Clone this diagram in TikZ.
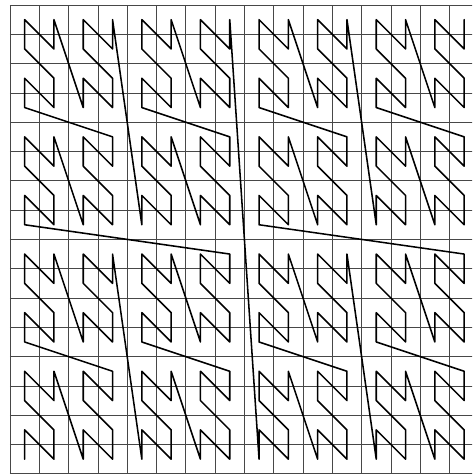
\documentclass[tikz,border=0pt]{standalone}
\begin{document}
\begin{tikzpicture}[x=1cm,y=1cm,
  gridline/.style={black!72,line width=0.7pt},
  zcurve/.style={black,line width=1.5pt,line join=round,line cap=round}]
\useasboundingbox (-0.341,-0.04) rectangle (15.768,16.171);
\clip (-0.341,-0.04) rectangle (15.768,16.171);
\fill[white] (-0.341,-0.04) rectangle (15.768,16.171);
\draw[gridline] (0,0) grid (16,16);
\draw[zcurve] (0.5,0.5)
  \foreach \i [evaluate=\i as \xx using {mod(int(\i/2),2)+2*mod(int(\i/8),2)+4*mod(int(\i/32),2)+8*mod(int(\i/128),2)+0.5},
               evaluate=\i as \yy using {mod(\i,2)+2*mod(int(\i/4),2)+4*mod(int(\i/16),2)+8*mod(int(\i/64),2)+0.5}]
  in {1,...,255} { -- (\xx,\yy) };
\end{tikzpicture}
\end{document}
